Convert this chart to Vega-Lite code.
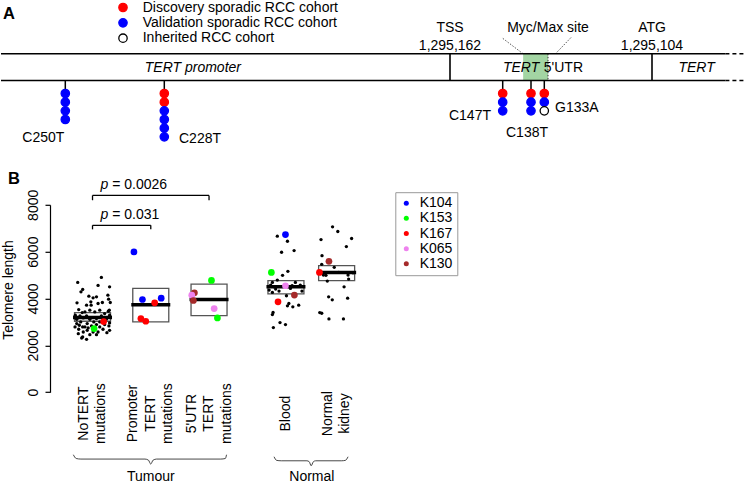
{
  "$schema": "https://vega.github.io/schema/vega-lite/v6.json",
  "padding": 0,
  "background": "white",
  "bounds": "flush",
  "spacing": 51.8,
  "config": {"view": {"stroke": null}, "font": "Liberation Sans", "text": {"font": "Liberation Sans", "fontSize": 14, "color": "black"}},
  "resolve": {"scale": {"x": "independent", "y": "independent", "fill": "independent", "stroke": "independent", "color": "independent"}},
  "datasets": {
    "mutations": [
      {"mutation": "C250T", "gpos": 1295250},
      {"mutation": "C228T", "gpos": 1295228},
      {"mutation": "C147T", "gpos": 1295147},
      {"mutation": "C138T", "gpos": 1295138},
      {"mutation": "G133A", "gpos": 1295133}
    ],
    "dots": [
      {"mutation": "C250T", "gpos": 1295250, "k": 1, "cohort": "Validation sporadic RCC cohort"},
      {"mutation": "C250T", "gpos": 1295250, "k": 2, "cohort": "Validation sporadic RCC cohort"},
      {"mutation": "C250T", "gpos": 1295250, "k": 3, "cohort": "Validation sporadic RCC cohort"},
      {"mutation": "C250T", "gpos": 1295250, "k": 4, "cohort": "Validation sporadic RCC cohort"},
      {"mutation": "C228T", "gpos": 1295228, "k": 1, "cohort": "Discovery sporadic RCC cohort"},
      {"mutation": "C228T", "gpos": 1295228, "k": 2, "cohort": "Discovery sporadic RCC cohort"},
      {"mutation": "C228T", "gpos": 1295228, "k": 3, "cohort": "Validation sporadic RCC cohort"},
      {"mutation": "C228T", "gpos": 1295228, "k": 4, "cohort": "Validation sporadic RCC cohort"},
      {"mutation": "C228T", "gpos": 1295228, "k": 5, "cohort": "Validation sporadic RCC cohort"},
      {"mutation": "C228T", "gpos": 1295228, "k": 6, "cohort": "Validation sporadic RCC cohort"},
      {"mutation": "C147T", "gpos": 1295147, "k": 1, "cohort": "Discovery sporadic RCC cohort"},
      {"mutation": "C147T", "gpos": 1295147, "k": 2, "cohort": "Validation sporadic RCC cohort"},
      {"mutation": "C147T", "gpos": 1295147, "k": 3, "cohort": "Validation sporadic RCC cohort"},
      {"mutation": "C138T", "gpos": 1295138, "k": 1, "cohort": "Discovery sporadic RCC cohort"},
      {"mutation": "C138T", "gpos": 1295138, "k": 2, "cohort": "Validation sporadic RCC cohort"},
      {"mutation": "C138T", "gpos": 1295138, "k": 3, "cohort": "Validation sporadic RCC cohort"},
      {"mutation": "G133A", "gpos": 1295133, "k": 1, "cohort": "Discovery sporadic RCC cohort"},
      {"mutation": "G133A", "gpos": 1295133, "k": 2, "cohort": "Validation sporadic RCC cohort"},
      {"mutation": "G133A", "gpos": 1295133, "k": 3, "cohort": "Inherited RCC cohort"}
    ],
    "features": [
      {"feature": "TSS", "gpos": 1295162, "coord": "1,295,162"},
      {"feature": "ATG", "gpos": 1295104, "coord": "1,295,104"}
    ],
    "groups": [
      {"group": "NoTERT", "label": "NoTERT\nmutations", "lines": 2, "slot": 1, "lo": 3029, "hi": 3400, "mid": 3186},
      {"group": "Promoter", "label": "Promoter\nTERT\nmutations", "lines": 3, "slot": 2, "lo": 3000, "hi": 4429, "mid": 3729},
      {"group": "5UTR", "label": "5'UTR\nTERT\nmutations", "lines": 3, "slot": 3, "lo": 3271, "hi": 4614, "mid": 3957},
      {"group": "Blood", "label": "Blood", "lines": 1, "slot": 4.32, "lo": 4200, "hi": 4760, "mid": 4500},
      {"group": "Kidney", "label": "Normal\nkidney", "lines": 2, "slot": 5.19, "lo": 4760, "hi": 5400, "mid": 5115}
    ],
    "samples": [
      {"group": "NoTERT", "slot": 0.746, "telomere": 4686}, {"group": "NoTERT", "slot": 1.152, "telomere": 4900},
      {"group": "NoTERT", "slot": 0.802, "telomere": 4286}, {"group": "NoTERT", "slot": 0.831, "telomere": 4386},
      {"group": "NoTERT", "slot": 1.095, "telomere": 4557}, {"group": "NoTERT", "slot": 1.293, "telomere": 4500},
      {"group": "NoTERT", "slot": 0.734, "telomere": 3814}, {"group": "NoTERT", "slot": 0.937, "telomere": 4100},
      {"group": "NoTERT", "slot": 1.010, "telomere": 4029}, {"group": "NoTERT", "slot": 0.971, "telomere": 3857},
      {"group": "NoTERT", "slot": 0.898, "telomere": 3714}, {"group": "NoTERT", "slot": 1.095, "telomere": 3786},
      {"group": "NoTERT", "slot": 1.169, "telomere": 3829}, {"group": "NoTERT", "slot": 1.264, "telomere": 4143},
      {"group": "NoTERT", "slot": 1.276, "telomere": 3971}, {"group": "NoTERT", "slot": 1.305, "telomere": 3829},
      {"group": "NoTERT", "slot": 1.068, "telomere": 4071}, {"group": "NoTERT", "slot": 0.976, "telomere": 3714},
      {"group": "NoTERT", "slot": 0.763, "telomere": 3529}, {"group": "NoTERT", "slot": 0.824, "telomere": 3400},
      {"group": "NoTERT", "slot": 0.870, "telomere": 3429}, {"group": "NoTERT", "slot": 0.954, "telomere": 3500},
      {"group": "NoTERT", "slot": 1.039, "telomere": 3429}, {"group": "NoTERT", "slot": 1.124, "telomere": 3500},
      {"group": "NoTERT", "slot": 1.208, "telomere": 3357}, {"group": "NoTERT", "slot": 1.288, "telomere": 3500},
      {"group": "NoTERT", "slot": 0.785, "telomere": 3257}, {"group": "NoTERT", "slot": 0.841, "telomere": 3171},
      {"group": "NoTERT", "slot": 0.898, "telomere": 3257}, {"group": "NoTERT", "slot": 0.954, "telomere": 3114},
      {"group": "NoTERT", "slot": 1.068, "telomere": 3143}, {"group": "NoTERT", "slot": 1.152, "telomere": 3257},
      {"group": "NoTERT", "slot": 1.237, "telomere": 3114}, {"group": "NoTERT", "slot": 1.293, "telomere": 3286},
      {"group": "NoTERT", "slot": 0.729, "telomere": 3114}, {"group": "NoTERT", "slot": 0.705, "telomere": 3286},
      {"group": "NoTERT", "slot": 0.729, "telomere": 2929}, {"group": "NoTERT", "slot": 0.773, "telomere": 2857},
      {"group": "NoTERT", "slot": 0.831, "telomere": 2786}, {"group": "NoTERT", "slot": 0.909, "telomere": 2929},
      {"group": "NoTERT", "slot": 0.983, "telomere": 2829}, {"group": "NoTERT", "slot": 1.068, "telomere": 2886},
      {"group": "NoTERT", "slot": 1.124, "telomere": 2786}, {"group": "NoTERT", "slot": 1.281, "telomere": 2829},
      {"group": "NoTERT", "slot": 0.763, "telomere": 2686}, {"group": "NoTERT", "slot": 0.841, "telomere": 2571},
      {"group": "NoTERT", "slot": 0.909, "telomere": 2643}, {"group": "NoTERT", "slot": 0.954, "telomere": 2457},
      {"group": "NoTERT", "slot": 1.095, "telomere": 2571}, {"group": "NoTERT", "slot": 1.180, "telomere": 2686},
      {"group": "NoTERT", "slot": 1.247, "telomere": 2543}, {"group": "NoTERT", "slot": 0.756, "telomere": 2500},
      {"group": "NoTERT", "slot": 0.831, "telomere": 2357}, {"group": "NoTERT", "slot": 0.898, "telomere": 2257},
      {"group": "NoTERT", "slot": 0.814, "telomere": 2314}, {"group": "NoTERT", "slot": 1.068, "telomere": 2457},
      {"group": "NoTERT", "slot": 1.010, "telomere": 2571}, {"group": "NoTERT", "slot": 1.293, "telomere": 2643},
      {"group": "NoTERT", "slot": 1.293, "telomere": 2957}, {"group": "NoTERT", "slot": 0.870, "telomere": 2786},
      {"group": "NoTERT", "slot": 0.925, "telomere": 2743}, {"group": "NoTERT", "slot": 1.124, "telomere": 3000},
      {"group": "NoTERT", "slot": 1.208, "telomere": 2886}, {"group": "NoTERT", "slot": 1.022, "telomere": 3000},
      {"group": "NoTERT", "slot": 0.797, "telomere": 3000}, {"group": "NoTERT", "slot": 0.700, "telomere": 2786},
      {"group": "NoTERT", "slot": 1.271, "telomere": 3457},
      {"group": "Blood", "slot": 4.172, "telomere": 6660}, {"group": "Blood", "slot": 4.346, "telomere": 6445},
      {"group": "Blood", "slot": 4.245, "telomere": 5974}, {"group": "Blood", "slot": 4.460, "telomere": 6045},
      {"group": "Blood", "slot": 4.353, "telomere": 5160}, {"group": "Blood", "slot": 4.262, "telomere": 4988},
      {"group": "Blood", "slot": 4.172, "telomere": 4788}, {"group": "Blood", "slot": 4.087, "telomere": 4688},
      {"group": "Blood", "slot": 4.058, "telomere": 4574}, {"group": "Blood", "slot": 4.116, "telomere": 4502},
      {"group": "Blood", "slot": 4.143, "telomere": 4402}, {"group": "Blood", "slot": 4.201, "telomere": 4316},
      {"group": "Blood", "slot": 4.031, "telomere": 4359}, {"group": "Blood", "slot": 4.482, "telomere": 4688},
      {"group": "Blood", "slot": 4.566, "telomere": 4574}, {"group": "Blood", "slot": 4.595, "telomere": 4316},
      {"group": "Blood", "slot": 4.426, "telomere": 4545}, {"group": "Blood", "slot": 4.397, "telomere": 4430},
      {"group": "Blood", "slot": 4.087, "telomere": 4259}, {"group": "Blood", "slot": 4.329, "telomere": 4116},
      {"group": "Blood", "slot": 4.346, "telomere": 3687}, {"group": "Blood", "slot": 4.370, "telomere": 3787},
      {"group": "Blood", "slot": 4.438, "telomere": 3644}, {"group": "Blood", "slot": 4.539, "telomere": 3716},
      {"group": "Blood", "slot": 4.099, "telomere": 3401}, {"group": "Blood", "slot": 4.087, "telomere": 3315},
      {"group": "Blood", "slot": 4.218, "telomere": 2972}, {"group": "Blood", "slot": 4.312, "telomere": 2887},
      {"group": "Blood", "slot": 4.104, "telomere": 2758},
      {"group": "Kidney", "slot": 5.120, "telomere": 7060}, {"group": "Kidney", "slot": 5.210, "telomere": 6860},
      {"group": "Kidney", "slot": 4.922, "telomere": 6516}, {"group": "Kidney", "slot": 5.447, "telomere": 6560},
      {"group": "Kidney", "slot": 5.357, "telomere": 6216}, {"group": "Kidney", "slot": 4.939, "telomere": 5830},
      {"group": "Kidney", "slot": 5.149, "telomere": 5330}, {"group": "Kidney", "slot": 4.934, "telomere": 5460},
      {"group": "Kidney", "slot": 5.007, "telomere": 4988}, {"group": "Kidney", "slot": 5.030, "telomere": 4745},
      {"group": "Kidney", "slot": 5.227, "telomere": 5115}, {"group": "Kidney", "slot": 5.386, "telomere": 5000},
      {"group": "Kidney", "slot": 5.396, "telomere": 4830}, {"group": "Kidney", "slot": 5.318, "telomere": 4500},
      {"group": "Kidney", "slot": 5.053, "telomere": 4073}, {"group": "Kidney", "slot": 5.115, "telomere": 3945},
      {"group": "Kidney", "slot": 5.379, "telomere": 4015}, {"group": "Kidney", "slot": 4.900, "telomere": 3400},
      {"group": "Kidney", "slot": 4.934, "telomere": 3370}, {"group": "Kidney", "slot": 5.058, "telomere": 3130},
      {"group": "Kidney", "slot": 5.307, "telomere": 3130}, {"group": "Kidney", "slot": 5.471, "telomere": 5100},
      {"group": "Kidney", "slot": 4.963, "telomere": 5000}
    ],
    "highlight": [
      {"group": "NoTERT", "patient": "K153", "slot": 1.027, "telomere": 2714},
      {"group": "NoTERT", "patient": "K167", "slot": 1.191, "telomere": 3014},
      {"group": "Promoter", "patient": "K104", "slot": 1.711, "telomere": 5986},
      {"group": "Promoter", "patient": "K104", "slot": 1.857, "telomere": 3957},
      {"group": "Promoter", "patient": "K167", "slot": 2.067, "telomere": 3814},
      {"group": "Promoter", "patient": "K104", "slot": 2.179, "telomere": 4014},
      {"group": "Promoter", "patient": "K167", "slot": 1.830, "telomere": 3143},
      {"group": "Promoter", "patient": "K167", "slot": 1.914, "telomere": 3029},
      {"group": "5UTR", "patient": "K153", "slot": 3.042, "telomere": 4771},
      {"group": "5UTR", "patient": "K130", "slot": 2.749, "telomere": 4243},
      {"group": "5UTR", "patient": "K065", "slot": 2.704, "telomere": 4143},
      {"group": "5UTR", "patient": "K130", "slot": 2.732, "telomere": 3914},
      {"group": "5UTR", "patient": "K065", "slot": 3.088, "telomere": 3571},
      {"group": "5UTR", "patient": "K153", "slot": 3.144, "telomere": 3171},
      {"group": "Blood", "patient": "K104", "slot": 4.312, "telomere": 6730},
      {"group": "Blood", "patient": "K153", "slot": 4.070, "telomere": 5115},
      {"group": "Blood", "patient": "K065", "slot": 4.312, "telomere": 4545},
      {"group": "Blood", "patient": "K130", "slot": 4.465, "telomere": 4145},
      {"group": "Blood", "patient": "K167", "slot": 4.184, "telomere": 3860},
      {"group": "Kidney", "patient": "K167", "slot": 4.895, "telomere": 5115},
      {"group": "Kidney", "patient": "K130", "slot": 5.058, "telomere": 5586}
    ],
    "brackets": [
      {"from": 1, "to": 3, "level": 8400, "tip": 8195, "ptext": "= 0.0026"},
      {"from": 1, "to": 2, "level": 7124, "tip": 6952, "ptext": "= 0.031"}
    ],
    "braces": [
      {"brace": "Tumour", "slot": 0.671, "level": -2670}, {"brace": "Tumour", "slot": 0.72, "level": -2830},
      {"brace": "Tumour", "slot": 0.80, "level": -2855}, {"brace": "Tumour", "slot": 1.90, "level": -2855},
      {"brace": "Tumour", "slot": 1.96, "level": -2900}, {"brace": "Tumour", "slot": 1.999, "level": -3069},
      {"brace": "Tumour", "slot": 2.04, "level": -2900}, {"brace": "Tumour", "slot": 2.10, "level": -2855},
      {"brace": "Tumour", "slot": 3.20, "level": -2855}, {"brace": "Tumour", "slot": 3.28, "level": -2830},
      {"brace": "Tumour", "slot": 3.30, "level": -2670},
      {"brace": "Normal", "slot": 4.116, "level": -2756}, {"brace": "Normal", "slot": 4.16, "level": -2910},
      {"brace": "Normal", "slot": 4.24, "level": -2928}, {"brace": "Normal", "slot": 4.68, "level": -2928},
      {"brace": "Normal", "slot": 4.72, "level": -2970}, {"brace": "Normal", "slot": 4.753, "level": -3142},
      {"brace": "Normal", "slot": 4.79, "level": -2970}, {"brace": "Normal", "slot": 4.83, "level": -2928},
      {"brace": "Normal", "slot": 5.27, "level": -2928}, {"brace": "Normal", "slot": 5.34, "level": -2910},
      {"brace": "Normal", "slot": 5.386, "level": -2756}
    ],
    "sections": [
      {"section": "Tumour", "slot": 2.0},
      {"section": "Normal", "slot": 4.765}
    ]
  },
  "vconcat": [
    {
      "width": 747,
      "height": 150,
      "layer": [
        {
          "data": {"values": [{}]},
          "mark": {"type": "rect", "fill": "#a3d5a3"},
          "encoding": {
            "x": {"datum": 1295140.5, "type": "quantitative", "axis": null,
                  "scale": {"domain": [1295300, 1295250, 1295228, 1295162, 1295147, 1295138, 1295133, 1295104, 1295070],
                            "range": [0, 64.3, 163.3, 449, 501.7, 530, 543.3, 651, 747], "zero": false, "nice": false}},
            "x2": {"datum": 1295132},
            "y": {"datum": -3.579, "type": "quantitative", "axis": null,
                  "scale": {"domain": [-9.439, 7.862], "reverse": true, "zero": false, "nice": false}},
            "y2": {"datum": -0.499}
          }
        },
        {
          "data": {"values": [{}]},
          "mark": {"type": "rule", "color": "#333", "strokeWidth": 1, "strokeDash": [1.5, 1.5]},
          "encoding": {"x": {"datum": 1295132, "axis": null}, "y": {"datum": -3.579, "axis": null}, "y2": {"datum": -0.499}}
        },
        {
          "data": {"values": [{}]},
          "mark": {"type": "rule", "color": "#444", "strokeWidth": 0.9, "strokeDash": [1.5, 1.5]},
          "encoding": {"x": {"datum": 1295140.5, "axis": null}, "x2": {"datum": 1295147.3}, "y": {"datum": -3.579, "axis": null}, "y2": {"datum": -5.459}}
        },
        {
          "data": {"values": [{}]},
          "mark": {"type": "rule", "color": "#444", "strokeWidth": 0.9, "strokeDash": [1.5, 1.5]},
          "encoding": {"x": {"datum": 1295130, "axis": null}, "x2": {"datum": 1295125.8}, "y": {"datum": -3.579, "axis": null}, "y2": {"datum": -5.459}}
        },
        {
          "data": {"values": [{}]},
          "mark": {"type": "rule", "color": "black", "strokeWidth": 1.6},
          "encoding": {"x": {"datum": 1295300, "axis": null}, "x2": {"datum": 1295078}, "y": {"datum": -3.579, "axis": null}}
        },
        {
          "data": {"values": [{}]},
          "mark": {"type": "rule", "color": "black", "strokeWidth": 1.6},
          "encoding": {"x": {"datum": 1295300, "axis": null}, "x2": {"datum": 1295078}, "y": {"datum": -0.499, "axis": null}}
        },
        {
          "data": {"values": [{}]},
          "mark": {"type": "rule", "color": "black", "strokeWidth": 1.6, "strokeDash": [4, 3]},
          "encoding": {"x": {"datum": 1295078, "axis": null}, "x2": {"datum": 1295071}, "y": {"datum": -3.579, "axis": null}}
        },
        {
          "data": {"values": [{}]},
          "mark": {"type": "rule", "color": "black", "strokeWidth": 1.6, "strokeDash": [4, 3]},
          "encoding": {"x": {"datum": 1295078, "axis": null}, "x2": {"datum": 1295071}, "y": {"datum": -0.499, "axis": null}}
        },
        {
          "data": {"name": "features"},
          "mark": {"type": "rule", "color": "black", "strokeWidth": 1.6},
          "encoding": {"x": {"field": "gpos", "type": "quantitative", "axis": null}, "y": {"datum": -3.579, "axis": null}, "y2": {"datum": -0.499}}
        },
        {
          "data": {"name": "features"},
          "mark": {"type": "text", "fontSize": 14, "align": "center", "baseline": "middle"},
          "encoding": {"x": {"field": "gpos", "type": "quantitative", "axis": null}, "y": {"datum": -6.555, "axis": null}, "text": {"field": "feature"}}
        },
        {
          "data": {"name": "features"},
          "mark": {"type": "text", "fontSize": 14, "align": "center", "baseline": "middle"},
          "encoding": {"x": {"field": "gpos", "type": "quantitative", "axis": null}, "y": {"datum": -4.525, "axis": null}, "text": {"field": "coord"}}
        },
        {
          "data": {"values": [{}]},
          "mark": {"type": "text", "fontSize": 14, "align": "center", "baseline": "middle", "text": "Myc/Max site"},
          "encoding": {"x": {"datum": 1295132, "axis": null}, "y": {"datum": -6.555, "axis": null}}
        },
        {
          "data": {"values": [{}]},
          "mark": {"type": "text", "fontSize": 14, "fontStyle": "italic", "align": "center", "baseline": "middle", "text": "TERT promoter"},
          "encoding": {"x": {"datum": 1295221.4, "axis": null}, "y": {"datum": -1.941, "axis": null}}
        },
        {
          "data": {"values": [{}]},
          "mark": {"type": "text", "fontSize": 14, "fontStyle": "italic", "align": "right", "baseline": "middle", "text": "TERT"},
          "encoding": {"x": {"datum": 1295134.9, "axis": null}, "y": {"datum": -1.941, "axis": null}}
        },
        {
          "data": {"values": [{}]},
          "mark": {"type": "text", "fontSize": 14, "align": "left", "baseline": "middle", "text": "5'UTR"},
          "encoding": {"x": {"datum": 1295133.2, "axis": null}, "y": {"datum": -1.941, "axis": null}}
        },
        {
          "data": {"values": [{}]},
          "mark": {"type": "text", "fontSize": 14, "fontStyle": "italic", "align": "center", "baseline": "middle", "text": "TERT"},
          "encoding": {"x": {"datum": 1295088.2, "axis": null}, "y": {"datum": -1.941, "axis": null}}
        },
        {
          "data": {"name": "mutations"},
          "mark": {"type": "rule", "color": "black", "strokeWidth": 1.5},
          "encoding": {"x": {"field": "gpos", "type": "quantitative", "axis": null}, "y": {"datum": -0.499, "axis": null}, "y2": {"datum": 1}}
        },
        {
          "data": {"name": "dots"},
          "mark": {"type": "point", "filled": true, "shape": "circle", "size": 70, "strokeWidth": 1.3, "opacity": 1},
          "encoding": {
            "x": {"field": "gpos", "type": "quantitative", "axis": null},
            "y": {"field": "k", "type": "quantitative", "axis": null},
            "fill": {"field": "cohort", "type": "nominal",
                     "scale": {"domain": ["Discovery sporadic RCC cohort", "Validation sporadic RCC cohort", "Inherited RCC cohort"], "range": ["#ff0000", "#0000ff", "#ffffff"]},
                     "legend": {"orient": "none", "legendX": 115, "legendY": -2.5, "title": null, "padding": 0, "symbolSize": 70, "symbolStrokeWidth": 1.3, "labelOffset": 12.7, "labelLimit": 0, "labelFontSize": 14, "labelFont": "Liberation Sans", "labelColor": "black", "rowPadding": 1.35, "symbolType": "circle"}},
            "stroke": {"field": "cohort", "type": "nominal",
                       "scale": {"domain": ["Discovery sporadic RCC cohort", "Validation sporadic RCC cohort", "Inherited RCC cohort"], "range": ["#ff0000", "#0000ff", "#000000"]},
                       "legend": {"orient": "none", "legendX": 115, "legendY": -2.5, "title": null, "padding": 0, "symbolSize": 70, "symbolStrokeWidth": 1.3, "labelOffset": 12.7, "labelLimit": 0, "labelFontSize": 14, "labelFont": "Liberation Sans", "labelColor": "black", "rowPadding": 1.35, "symbolType": "circle"}}
          }
        },
        {
          "data": {"values": [{}]},
          "mark": {"type": "text", "fontSize": 14, "align": "right", "baseline": "middle", "dx": -1, "text": "C250T"},
          "encoding": {"x": {"datum": 1295250, "axis": null}, "y": {"datum": 6.13, "axis": null}}
        },
        {
          "data": {"values": [{}]},
          "mark": {"type": "text", "fontSize": 14, "align": "left", "baseline": "middle", "dx": 14.7, "text": "C228T"},
          "encoding": {"x": {"datum": 1295228, "axis": null}, "y": {"datum": 6.2, "axis": null}}
        },
        {
          "data": {"values": [{}]},
          "mark": {"type": "text", "fontSize": 14, "align": "right", "baseline": "middle", "dx": -11.7, "text": "C147T"},
          "encoding": {"x": {"datum": 1295147, "axis": null}, "y": {"datum": 3.63, "axis": null}}
        },
        {
          "data": {"values": [{}]},
          "mark": {"type": "text", "fontSize": 14, "align": "center", "baseline": "middle", "dx": -4, "text": "C138T"},
          "encoding": {"x": {"datum": 1295138, "axis": null}, "y": {"datum": 5.56, "axis": null}}
        },
        {
          "data": {"values": [{}]},
          "mark": {"type": "text", "fontSize": 14, "align": "left", "baseline": "middle", "dx": 10.7, "text": "G133A"},
          "encoding": {"x": {"datum": 1295133, "axis": null}, "y": {"datum": 2.67, "axis": null}}
        },
        {
          "data": {"values": [{}]},
          "mark": {"type": "text", "fontSize": 16.5, "fontWeight": "bold", "align": "left", "baseline": "middle", "dx": 2, "text": "A"},
          "encoding": {"x": {"datum": 1295300, "axis": null}, "y": {"datum": -8.18, "axis": null}}
        }
      ]
    },
    {
      "width": 747,
      "height": 187.4,
      "layer": [
        {
          "data": {"name": "groups"},
          "mark": {"type": "bar", "filled": false, "color": "#555", "strokeWidth": 1.3, "size": 36},
          "encoding": {
            "x": {"field": "slot", "type": "quantitative", "axis": null, "scale": {"domain": [-0.485, 12.165], "zero": false, "nice": false}},
            "y": {"field": "lo", "type": "quantitative",
                  "scale": {"domain": [0, 8000], "zero": false, "nice": false},
                  "axis": {"values": [0, 2000, 4000, 6000, 8000], "format": "d", "offset": -49, "grid": false, "labelAngle": 270, "labelAlign": "center", "labelBaseline": "bottom", "labelPadding": 5, "tickSize": 5, "tickWidth": 1.2, "domainWidth": 1.2, "domainColor": "black", "tickColor": "black", "labelColor": "black", "labelFont": "Liberation Sans", "labelFontSize": 14,
                           "title": "Telomere length", "titleFont": "Liberation Sans", "titleFontSize": 14, "titleFontWeight": "normal", "titleColor": "black", "titleAngle": 270, "titleAlign": "center", "titleBaseline": "alphabetic", "titleX": -37.8, "titleY": 84.7}},
            "y2": {"field": "hi"}
          }
        },
        {
          "data": {"name": "samples"},
          "mark": {"type": "point", "filled": true, "shape": "circle", "size": 11, "color": "black", "opacity": 1},
          "encoding": {"x": {"field": "slot", "type": "quantitative", "axis": null}, "y": {"field": "telomere", "type": "quantitative"}}
        },
        {
          "data": {"name": "groups"},
          "mark": {"type": "tick", "orient": "horizontal", "size": 39, "thickness": 3.5, "color": "black", "opacity": 1},
          "encoding": {"x": {"field": "slot", "type": "quantitative", "axis": null}, "y": {"field": "mid", "type": "quantitative"}}
        },
        {
          "data": {"name": "highlight"},
          "mark": {"type": "point", "filled": true, "shape": "circle", "size": 45, "opacity": 1},
          "encoding": {
            "x": {"field": "slot", "type": "quantitative", "axis": null},
            "y": {"field": "telomere", "type": "quantitative"},
            "color": {"field": "patient", "type": "nominal",
                      "scale": {"domain": ["K104", "K153", "K167", "K065", "K130"], "range": ["#0000ff", "#00ff00", "#ff0000", "#ee82ee", "#a52a2a"]},
                      "legend": {"orient": "none", "legendX": 394.3, "legendY": -12.6, "title": null, "padding": 4, "symbolOffset": 0, "symbolSize": 25, "symbolType": "circle", "labelOffset": 6.4, "labelFontSize": 14, "labelFont": "Liberation Sans", "labelColor": "black", "strokeColor": "#999", "rowPadding": 1.15, "labelExpr": "datum.label + '\u00a0\u00a0\u00a0\u00a0\u00a0\u00a0\u00a0'"}}
          }
        },
        {
          "data": {"name": "brackets"},
          "mark": {"type": "rule", "color": "black", "strokeWidth": 1.3},
          "encoding": {"x": {"field": "from", "type": "quantitative", "axis": null}, "x2": {"field": "to"}, "y": {"field": "level", "type": "quantitative"}}
        },
        {
          "data": {"name": "brackets"},
          "mark": {"type": "rule", "color": "black", "strokeWidth": 1.3},
          "encoding": {"x": {"field": "from", "type": "quantitative", "axis": null}, "y": {"field": "level", "type": "quantitative"}, "y2": {"field": "tip"}}
        },
        {
          "data": {"name": "brackets"},
          "mark": {"type": "rule", "color": "black", "strokeWidth": 1.3},
          "encoding": {"x": {"field": "to", "type": "quantitative", "axis": null}, "y": {"field": "level", "type": "quantitative"}, "y2": {"field": "tip"}}
        },
        {
          "data": {"name": "brackets"},
          "mark": {"type": "text", "fontSize": 14, "fontStyle": "italic", "align": "left", "baseline": "middle", "dx": 8, "dy": -10, "text": "p"},
          "encoding": {"x": {"field": "from", "type": "quantitative", "axis": null}, "y": {"field": "level", "type": "quantitative"}}
        },
        {
          "data": {"name": "brackets"},
          "mark": {"type": "text", "fontSize": 14, "align": "left", "baseline": "middle", "dx": 19.7, "dy": -10},
          "encoding": {"x": {"field": "from", "type": "quantitative", "axis": null}, "y": {"field": "level", "type": "quantitative"}, "text": {"field": "ptext"}}
        },
        {
          "data": {"name": "groups"},
          "transform": [{"filter": "datum.lines == 1"}],
          "mark": {"type": "text", "fontSize": 14, "angle": 270, "align": "center", "baseline": "middle", "lineBreak": "\n", "lineHeight": 17.5},
          "encoding": {"x": {"field": "slot", "type": "quantitative", "axis": null}, "y": {"datum": -913}, "text": {"field": "label"}}
        },
        {
          "data": {"name": "groups"},
          "transform": [{"filter": "datum.lines == 2"}],
          "mark": {"type": "text", "fontSize": 14, "angle": 270, "align": "center", "baseline": "middle", "lineBreak": "\n", "lineHeight": 17.5, "dy": -8.75},
          "encoding": {"x": {"field": "slot", "type": "quantitative", "axis": null}, "y": {"datum": -913}, "text": {"field": "label"}}
        },
        {
          "data": {"name": "groups"},
          "transform": [{"filter": "datum.lines == 3"}],
          "mark": {"type": "text", "fontSize": 14, "angle": 270, "align": "center", "baseline": "middle", "lineBreak": "\n", "lineHeight": 17.5, "dy": -17.5},
          "encoding": {"x": {"field": "slot", "type": "quantitative", "axis": null}, "y": {"datum": -913}, "text": {"field": "label"}}
        },
        {
          "data": {"name": "braces"},
          "mark": {"type": "line", "color": "#333", "strokeWidth": 0.9, "interpolate": "monotone"},
          "encoding": {"x": {"field": "slot", "type": "quantitative", "axis": null}, "y": {"field": "level", "type": "quantitative"}, "detail": {"field": "brace"}}
        },
        {
          "data": {"name": "sections"},
          "mark": {"type": "text", "fontSize": 14, "align": "center", "baseline": "middle"},
          "encoding": {"x": {"field": "slot", "type": "quantitative", "axis": null}, "y": {"datum": -3600}, "text": {"field": "section"}}
        },
        {
          "data": {"values": [{}]},
          "mark": {"type": "text", "fontSize": 16.5, "fontWeight": "bold", "align": "left", "baseline": "middle", "dx": 2, "text": "B"},
          "encoding": {"x": {"datum": -0.485, "axis": null}, "y": {"datum": 9100}}
        }
      ]
    }
  ]
}
